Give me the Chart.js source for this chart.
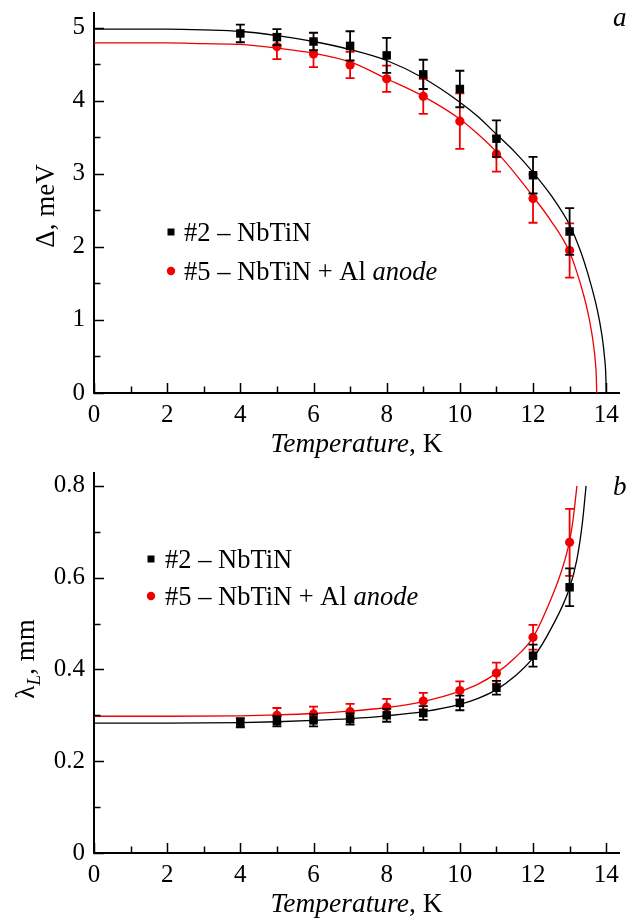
<!DOCTYPE html>
<html lang="en">
<head>
<meta charset="UTF-8" />
<title>NbTiN: gap and penetration depth vs temperature</title>
<script src="https://cdn.jsdelivr.net/npm/chart.js"></script>
<style>
  body { margin: 0; background: #fff; }
  canvas { display: block; }
</style>
</head>
<body>
<canvas id="gapChart" width="629" height="460"></canvas>
<canvas id="lambdaChart" width="629" height="461"></canvas>
<script>
// --- measured points (T in K) ---
const temps2 = [4, 5, 6, 7, 8, 9, 10, 11, 12, 13];
const temps5 = [5, 6, 7, 8, 9, 10, 11, 12, 13];

// gap, meV
const gap2    = [4.92, 4.87, 4.81, 4.75, 4.62, 4.36, 4.16, 3.48, 2.98, 2.21];
const gap2Err = [0.12, 0.11, 0.12, 0.20, 0.24, 0.20, 0.25, 0.25, 0.25, 0.32];
const gap5    = [4.74, 4.64, 4.49, 4.30, 4.06, 3.72, 3.27, 2.66, 1.95];
const gap5Err = [0.17, 0.18, 0.18, 0.18, 0.24, 0.38, 0.24, 0.33, 0.37];

// penetration depth, mm
const lam2    = [0.284, 0.287, 0.289, 0.292, 0.300, 0.305, 0.327, 0.360, 0.430, 0.579];
const lam2Err = [0.010, 0.011, 0.013, 0.012, 0.014, 0.015, 0.016, 0.015, 0.024, 0.041];
const lam5    = [0.300, 0.303, 0.308, 0.318, 0.331, 0.354, 0.392, 0.470, 0.677];
const lam5Err = [0.016, 0.016, 0.017, 0.018, 0.018, 0.020, 0.023, 0.027, 0.073];

// --- fit curves ---
const fitGapT2 = [0, 1, 2, 3, 4, 5, 6, 7, 8, 9, 10, 10.5, 11, 11.5, 12, 12.5, 13, 13.3, 13.5, 13.7, 13.8, 13.9, 13.95, 13.99, 14.0];
const fitGap2  = [4.98, 4.98, 4.98, 4.97, 4.95, 4.89, 4.81, 4.70, 4.55, 4.31, 3.98, 3.78, 3.54, 3.30, 3.02, 2.70, 2.30, 1.94, 1.63, 1.26, 1.03, 0.73, 0.51, 0.23, 0];
const fitGapT5 = [0, 1, 2, 3, 4, 5, 6, 7, 8, 9, 10, 10.5, 11, 11.5, 12, 12.5, 13, 13.2, 13.4, 13.5, 13.6, 13.65, 13.7, 13.73, 13.74];
const fitGap5  = [4.79, 4.79, 4.79, 4.78, 4.77, 4.72, 4.65, 4.53, 4.30, 4.06, 3.75, 3.54, 3.30, 3.01, 2.69, 2.35, 1.93, 1.65, 1.31, 1.10, 0.84, 0.67, 0.45, 0.22, 0];

const fitLamT2 = [0, 2, 4, 5, 6, 7, 8, 9, 10, 10.5, 11, 11.5, 12, 12.5, 13, 13.2, 13.35, 13.45];
const fitLam2  = [0.283, 0.283, 0.284, 0.286, 0.289, 0.293, 0.299, 0.308, 0.324, 0.337, 0.356, 0.385, 0.425, 0.490, 0.578, 0.640, 0.720, 0.800];
const fitLamT5 = [0, 2, 4, 5, 6, 7, 8, 9, 10, 10.5, 11, 11.5, 12, 12.5, 12.8, 13, 13.1, 13.2];
const fitLam5  = [0.298, 0.298, 0.299, 0.301, 0.304, 0.309, 0.317, 0.330, 0.352, 0.368, 0.392, 0.425, 0.470, 0.555, 0.620, 0.680, 0.730, 0.800];

const BLACK = '#000';
const RED = 'rgb(240, 0, 0)';
const SERIF = '"Liberation Serif", "Times New Roman", serif';

const pts = (xs, ys) => xs.map((x, i) => ({ x: x, y: ys[i] }));

// text made of several runs (italic / subscript)
function runFont(r, size) {
  return (r.italic ? 'italic ' : '') + (r.sub ? size * 0.72 : size).toFixed(1) + 'px ' + SERIF;
}
function drawRuns(ctx, runs, x, y, size, align) {
  let total = 0;
  runs.forEach(r => { ctx.font = runFont(r, size); r.w = ctx.measureText(r.text).width; total += r.w; });
  let cx = align === 'center' ? x - total / 2 : x;
  runs.forEach(r => {
    ctx.font = runFont(r, size);
    ctx.fillText(r.text, cx, r.sub ? y + size * 0.22 : y);
    cx += r.w;
  });
}

// vertical error bars, drawn just under each point set
const errorBars = {
  id: 'errorBars',
  beforeDatasetDraw(chart, args) {
    const ds = chart.data.datasets[args.index];
    if (!ds.errors) return;
    const ys = chart.scales.y;
    const ctx = chart.ctx;
    ctx.save();
    ctx.strokeStyle = ds.backgroundColor;
    ctx.lineWidth = 1.8;
    args.meta.data.forEach((el, i) => {
      const v = ds.data[i].y, e = ds.errors[i];
      const top = ys.getPixelForValue(v + e), bot = ys.getPixelForValue(v - e);
      ctx.beginPath();
      ctx.moveTo(el.x, top); ctx.lineTo(el.x, bot);
      ctx.moveTo(el.x - 4.5, top); ctx.lineTo(el.x + 4.5, top);
      ctx.moveTo(el.x - 4.5, bot); ctx.lineTo(el.x + 4.5, bot);
      ctx.stroke();
    });
    ctx.restore();
  }
};

// inward tick marks, axis titles, legend, panel letter
const decor = {
  id: 'decor',
  afterDraw(chart, args, o) {
    const ctx = chart.ctx;
    const area = chart.chartArea;
    const xs = chart.scales.x, ys = chart.scales.y;
    ctx.save();
    ctx.strokeStyle = BLACK;
    ctx.lineWidth = 1.5;
    ctx.beginPath();
    xs.ticks.forEach(t => {
      const px = Math.round(xs.getPixelForValue(t.value)) + 0.5;
      const len = o.isMajorX(t.value) ? 10 : 6.5;
      ctx.moveTo(px, area.bottom); ctx.lineTo(px, area.bottom - len);
    });
    ys.ticks.forEach(t => {
      const py = Math.round(ys.getPixelForValue(t.value)) + 0.5;
      const len = o.isMajorY(t.value) ? 10 : 6.5;
      ctx.moveTo(area.left, py); ctx.lineTo(area.left + len, py);
    });
    ctx.stroke();

    ctx.fillStyle = BLACK;
    ctx.textBaseline = 'alphabetic';
    // x title
    drawRuns(ctx, [{ text: 'Temperature', italic: true }, { text: ', K' }],
      (area.left + area.right) / 2, 452, 27.5, 'center');
    // y title
    ctx.save();
    ctx.translate(o.yTitleX, o.yTitleY);
    ctx.rotate(-Math.PI / 2);
    drawRuns(ctx, o.yTitle, 0, 0, 27, 'center');
    ctx.restore();
    // panel letter
    drawRuns(ctx, [{ text: o.letter, italic: true }], 613, o.letterY, 27, 'left');

    // legend
    const lg = o.legend;
    ctx.fillStyle = BLACK;
    ctx.fillRect(lg.x - 3.5, lg.y1 - 3.5, 7, 7);
    ctx.fillStyle = RED;
    ctx.beginPath();
    ctx.arc(lg.x, lg.y2, 4.2, 0, Math.PI * 2);
    ctx.fill();
    ctx.fillStyle = BLACK;
    drawRuns(ctx, [{ text: '#2 – NbTiN' }], lg.tx, lg.y1 + 9, 26.5, 'left');
    drawRuns(ctx, [{ text: '#5 – NbTiN + Al ' }, { text: 'anode', italic: true }], lg.tx, lg.y2 + 9, 26.5, 'left');
    ctx.restore();
  }
};

function buildChart(id, p) {
  const canvasH = document.getElementById(id).height;
  return new Chart(document.getElementById(id), {
    type: 'scatter',
    data: {
      datasets: [
        { label: '#2 – NbTiN', data: pts(p.t2, p.v2), errors: p.e2, backgroundColor: BLACK,
          pointStyle: 'rect', pointRadius: 6, borderWidth: 0 },
        { label: '#5 – NbTiN + Al anode', data: pts(p.t5, p.v5), errors: p.e5, backgroundColor: RED,
          pointStyle: 'circle', pointRadius: 4.6, borderWidth: 0 },
        { data: pts(p.ft2, p.f2), showLine: true, borderColor: BLACK, borderWidth: 1.3,
          pointRadius: 0, cubicInterpolationMode: 'monotone' },
        { data: pts(p.ft5, p.f5), showLine: true, borderColor: RED, borderWidth: 1.3,
          pointRadius: 0, cubicInterpolationMode: 'monotone' }
      ]
    },
    options: {
      responsive: false,
      animation: false,
      layout: { padding: { left: 0, right: 10, top: 13, bottom: 0 } },
      scales: {
        x: {
          type: 'linear', min: 0, max: 14.35,
          grid: { display: true, drawOnChartArea: false, drawTicks: false },
          border: { display: true, color: BLACK, width: 2 },
          ticks: {
            stepSize: 1, includeBounds: false, autoSkip: false, maxRotation: 0, padding: 7,
            color: BLACK, font: { family: SERIF, size: 25 },
            callback: v => (v % 2 === 0 ? String(v) : '')
          },
          afterFit: s => {
            s.height = canvasH - 13 - 380;
            s.paddingLeft = 0; s.paddingRight = 0;
          }
        },
        y: {
          type: 'linear', min: 0, max: p.ymax,
          grid: { display: true, drawOnChartArea: false, drawTicks: false },
          border: { display: true, color: BLACK, width: 2 },
          ticks: {
            stepSize: p.ystep, includeBounds: false, autoSkip: false, padding: 9,
            color: BLACK, font: { family: SERIF, size: 25 },
            callback: p.ylabel
          },
          afterFit: s => {
            s.width = 94;
            s.paddingTop = 0; s.paddingBottom = 0;
          }
        }
      },
      plugins: {
        legend: { display: false },
        tooltip: { enabled: false },
        decor: {
          isMajorX: v => Math.round(v) % 2 === 0,
          isMajorY: p.isMajorY,
          yTitle: p.yTitle, yTitleX: p.yTitleX, yTitleY: p.yTitleY,
          letter: p.letter, letterY: p.letterY,
          legend: p.legend
        }
      }
    },
    plugins: [errorBars, decor]
  });
}

buildChart('gapChart', {
  t2: temps2, v2: gap2, e2: gap2Err, t5: temps5, v5: gap5, e5: gap5Err,
  ft2: fitGapT2, f2: fitGap2, ft5: fitGapT5, f5: fitGap5,
  ymax: 5.2, ystep: 0.5,
  ylabel: v => (Number.isInteger(v) ? String(v) : ''),
  isMajorY: v => Math.abs(v - Math.round(v)) < 1e-6,
  yTitle: [{ text: 'Δ, meV' }], yTitleX: 54, yTitleY: 206,
  letter: 'a', letterY: 26,
  legend: { x: 171, tx: 184, y1: 232, y2: 271 }
});

buildChart('lambdaChart', {
  t2: temps2, v2: lam2, e2: lam2Err, t5: temps5, v5: lam5, e5: lam5Err,
  ft2: fitLamT2, f2: fitLam2, ft5: fitLamT5, f5: fitLam5,
  ymax: 0.828, ystep: 0.1,
  ylabel: v => { const k = Math.round(v * 10); return k % 2 === 0 ? (k === 0 ? '0' : (k / 10).toFixed(1)) : ''; },
  isMajorY: v => Math.round(v * 10) % 2 === 0,
  yTitle: [{ text: 'λ' }, { text: 'L', italic: true, sub: true }, { text: ', mm' }], yTitleX: 34, yTitleY: 199,
  letter: 'b', letterY: 35,
  legend: { x: 151, tx: 165, y1: 99, y2: 136 }
});
</script>
</body>
</html>
